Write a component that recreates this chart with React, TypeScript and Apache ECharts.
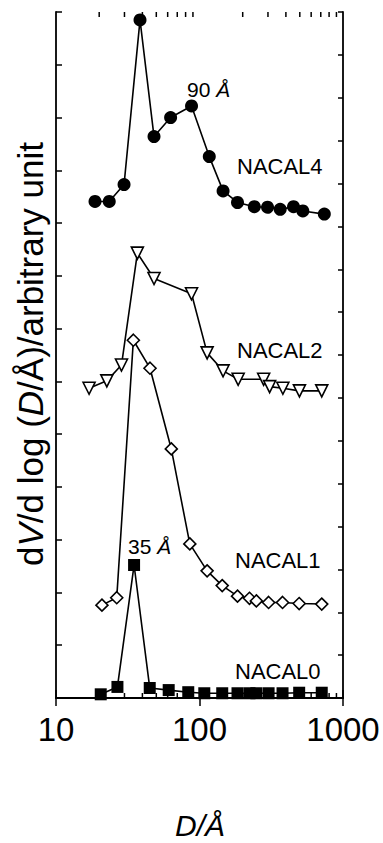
import React, { useEffect, useRef } from "react";
import * as echarts from "echarts";

// Pore diameter D (Å) and dV/dlog(D) values (arbitrary units, vertically offset as in the figure)
const nacal4D = [18.7, 23.5, 29.8, 38.5, 48.2, 62.9, 88, 117, 146, 184, 241, 298, 365, 452, 525, 741];
const nacal4V = [9.41, 9.41, 9.73, 12.85, 10.64, 11.0, 11.22, 10.26, 9.61, 9.39, 9.31, 9.3, 9.26, 9.31, 9.23, 9.17];

const nacal2D = [17.0, 22.6, 28.6, 36.9, 48.2, 88, 113, 146, 186, 280, 308, 381, 497, 711];
const nacal2V = [5.87, 6.01, 6.31, 8.43, 7.95, 7.66, 6.54, 6.2, 6.04, 6.04, 5.9, 5.87, 5.82, 5.82];

const nacal1D = [20.9, 26.5, 34.6, 45.2, 63.6, 85.6, 113, 144, 184, 223, 249, 303, 379, 495, 711];
const nacal1V = [1.76, 1.9, 6.78, 6.25, 4.72, 2.92, 2.41, 2.13, 1.93, 1.89, 1.84, 1.81, 1.81, 1.79, 1.78];

const nacal0D = [20.5, 26.8, 35, 45, 61, 83.5, 108, 144, 184, 223, 249, 303, 379, 495, 711];
const nacal0V = [0.07, 0.21, 2.52, 0.19, 0.15, 0.11, 0.09, 0.09, 0.09, 0.09, 0.09, 0.09, 0.09, 0.1, 0.1];

const minorTicks = [20, 30, 40, 50, 60, 70, 80, 90, 200, 300, 400, 500, 600, 700, 800, 900];
const xTickLabels = ["10", "100", "1000"];

const LEFT_MAX = 13;
const RIGHT_MAX = 16;
const FONT = "'Liberation Sans', Arial, Helvetica, sans-serif";

const pair = (xs: number[], ys: number[]) => xs.map((x, i) => [x, ys[i]]);

export default function App() {
  const ref = useRef<HTMLDivElement>(null);
  useEffect(() => {
    if (!ref.current) return;
    const chart = echarts.init(ref.current, undefined, { renderer: "svg" });
    const lineStyle = { color: "#000", width: 1.6 };
    const axisLine = { show: true, lineStyle: { color: "#000", width: 1.8 } };
    const labelStyle = { fontFamily: FONT, fontSize: 22, fill: "#000" };
    chart.setOption({
      animation: false,
      backgroundColor: "#fff",
      grid: { left: 56, right: 40, top: 12, bottom: 145, containLabel: false },
      xAxis: [
        {
          type: "log",
          logBase: 10,
          min: 10,
          max: 1000,
          position: "bottom",
          axisLine,
          axisTick: { show: true, inside: true, length: 8, lineStyle: { color: "#000", width: 1.5 } },
          axisLabel: {
            show: true,
            fontFamily: FONT,
            fontSize: 33,
            color: "#000",
            margin: 15,
            formatter: (v: number) => {
              const idx = [10, 100, 1000].indexOf(Math.round(v));
              return idx >= 0 ? xTickLabels[idx] : "";
            },
          },
          splitLine: { show: false },
        },
        {
          type: "log",
          logBase: 10,
          min: 10,
          max: 1000,
          position: "top",
          axisLine,
          axisTick: { show: true, inside: true, length: 8, lineStyle: { color: "#000", width: 1.5 } },
          axisLabel: { show: false },
          splitLine: { show: false },
        },
      ],
      yAxis: [
        {
          type: "value",
          min: 0,
          max: LEFT_MAX,
          interval: 1,
          position: "left",
          axisLine,
          axisTick: { show: true, inside: true, length: 6, lineStyle: { color: "#000", width: 1.5 } },
          axisLabel: { show: false },
          splitLine: { show: false },
        },
        {
          type: "value",
          min: 0,
          max: RIGHT_MAX,
          interval: 1,
          position: "right",
          axisLine,
          axisTick: { show: true, inside: true, length: 5, lineStyle: { color: "#000", width: 1.5 } },
          axisLabel: { show: false },
          splitLine: { show: false },
        },
      ],
      series: [
        {
          type: "custom",
          xAxisIndex: 0,
          yAxisIndex: 0,
          silent: true,
          clip: false,
          encode: { x: 0, y: 1 },
          data: minorTicks.map((v) => [v, 0]),
          renderItem: (params: any, api: any) => {
            const v = api.value(0);
            const top = api.coord([v, LEFT_MAX]);
            const bot = api.coord([v, 0]);
            const st = { stroke: "#000", lineWidth: 1.5 };
            return {
              type: "group",
              children: [
                { type: "line", shape: { x1: top[0], y1: top[1], x2: top[0], y2: top[1] + 5 }, style: st },
                { type: "line", shape: { x1: bot[0], y1: bot[1], x2: bot[0], y2: bot[1] - 5 }, style: st },
              ],
            };
          },
          z: 1,
        },
        {
          name: "NACAL4",
          type: "line",
          data: pair(nacal4D, nacal4V),
          symbol: "circle",
          symbolSize: 13,
          lineStyle,
          itemStyle: { color: "#000", borderColor: "#000", borderWidth: 0 },
          clip: false,
          z: 3,
        },
        {
          name: "NACAL2",
          type: "line",
          data: pair(nacal2D, nacal2V),
          symbol: "triangle",
          symbolRotate: 180,
          symbolSize: 12,
          lineStyle,
          itemStyle: { color: "#fff", borderColor: "#000", borderWidth: 1.6 },
          clip: false,
          z: 3,
        },
        {
          name: "NACAL1",
          type: "line",
          data: pair(nacal1D, nacal1V),
          symbol: "diamond",
          symbolSize: 12,
          lineStyle,
          itemStyle: { color: "#fff", borderColor: "#000", borderWidth: 1.6 },
          clip: false,
          z: 4,
        },
        {
          name: "NACAL0",
          type: "line",
          data: pair(nacal0D, nacal0V),
          symbol: "rect",
          symbolSize: 12,
          lineStyle,
          itemStyle: { color: "#000", borderColor: "#000", borderWidth: 0 },
          clip: false,
          z: 3,
        },
      ],
      graphic: [
        { type: "text", x: 237, y: 166, style: { ...labelStyle, text: "NACAL4", verticalAlign: "middle", align: "left" } },
        { type: "text", x: 237, y: 350, style: { ...labelStyle, text: "NACAL2", verticalAlign: "middle", align: "left" } },
        { type: "text", x: 235, y: 560, style: { ...labelStyle, text: "NACAL1", verticalAlign: "middle", align: "left" } },
        { type: "text", x: 235, y: 671, style: { ...labelStyle, text: "NACAL0", verticalAlign: "middle", align: "left" } },
        {
          type: "text",
          x: 187,
          y: 89,
          style: {
            text: "{n|90 }{i|Å}",
            verticalAlign: "middle",
            align: "left",
            rich: {
              n: { fontFamily: FONT, fontSize: 21, fill: "#000" },
              i: { fontFamily: FONT, fontSize: 21, fontStyle: "italic", fill: "#000" },
            },
          },
        },
        {
          type: "text",
          x: 128,
          y: 546,
          style: {
            text: "{n|35 }{i|Å}",
            verticalAlign: "middle",
            align: "left",
            rich: {
              n: { fontFamily: FONT, fontSize: 21, fill: "#000" },
              i: { fontFamily: FONT, fontSize: 21, fontStyle: "italic", fill: "#000" },
            },
          },
        },
        {
          type: "text",
          x: 30,
          y: 354,
          rotation: Math.PI / 2,
          style: {
            text: "{n|d}{i|V}{n|/d log (}{i|D}{n|/Å)/arbitrary unit}",
            align: "center",
            verticalAlign: "middle",
            rich: {
              n: { fontFamily: FONT, fontSize: 35, fill: "#000" },
              i: { fontFamily: FONT, fontSize: 35, fontStyle: "italic", fill: "#000" },
            },
          },
        },
        {
          type: "text",
          x: 200,
          y: 825,
          style: {
            text: "D/Å",
            fontFamily: FONT,
            fontSize: 30,
            fontStyle: "italic",
            fill: "#000",
            align: "center",
            verticalAlign: "middle",
          },
        },
      ],
    });
    return () => chart.dispose();
  }, []);
  return <div ref={ref} style={{ width: 383, height: 843, position: "absolute", left: 0, top: 0 }} />;
}
